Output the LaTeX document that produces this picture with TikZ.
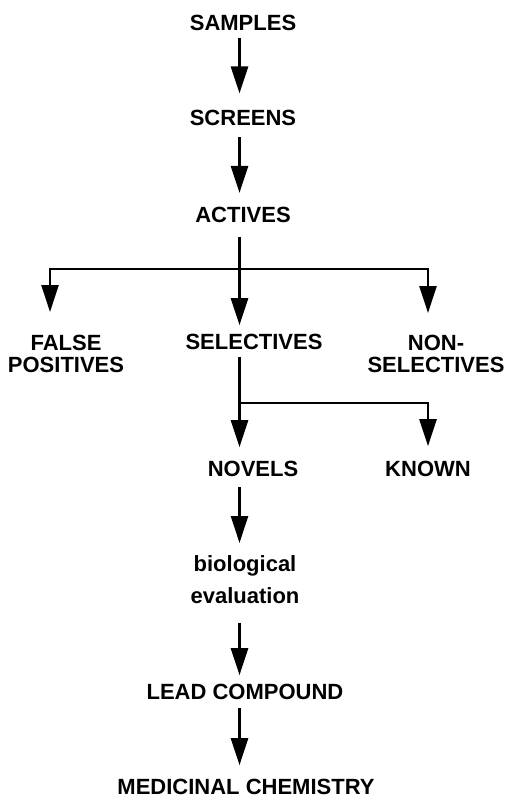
\documentclass[tikz,border=0pt]{standalone}
\usepackage{fontspec}
\setmainfont{Liberation Sans}
\usetikzlibrary{arrows.meta}
\begin{document}
\begin{tikzpicture}[x=1pt,y=-1pt,
  lbl/.style={inner sep=0pt,font=\fontsize{22}{22}\selectfont\bfseries,anchor=base},
  lbl2/.style={inner sep=0pt,font=\fontsize{22}{22}\selectfont\bfseries,anchor=north,align=center},
  conn/.style={line width=2.5pt,line join=miter},
  arr/.style={conn,-{Triangle[length=27pt,width=17pt]}}]
\useasboundingbox (0,0) rectangle (506,799);
\coordinate (sp) at (239.5,0);
\node[lbl] (samples) at (243,31) {SAMPLES};
\node[lbl] (screens) at (243,126) {SCREENS};
\node[lbl] (actives) at (243,223) {ACTIVES};
\node[lbl2] (false) at (66,334.6) {FALSE\\POSITIVES};
\node[lbl] (selectives) at (254,349) {SELECTIVES};
\node[lbl2] (nonsel) at (436,334.6) {NON-\\SELECTIVES};
\node[lbl] (novels) at (253,476) {NOVELS};
\node[lbl] (known) at (428,476) {KNOWN};
\node[lbl2,font=\fontsize{22}{32}\selectfont\bfseries] (bio) at (245,555) {biological\\evaluation};
\node[lbl] (lead) at (245,699) {LEAD COMPOUND};
\node[lbl] (med) at (246,794) {MEDICINAL CHEMISTRY};
\coordinate (j1) at (239.5,269);
\coordinate (xl) at (50,0);
\coordinate (xr) at (428,0);
\coordinate (j2) at (239.5,403);
\draw[arr] ([yshift=-7pt]samples.south -| sp) -- ([yshift=17pt]screens.north -| sp);
\draw[arr] ([yshift=-11pt]screens.south -| sp) -- ([yshift=14.5pt]actives.north -| sp);
\draw[conn] ([yshift=-14pt]actives.south -| sp) -- (j1);
\draw[arr] (j1) -| ([yshift=22.6pt]false.north -| xl);
\draw[arr] (j1) -| ([yshift=21.6pt]nonsel.north -| xr);
\draw[arr] (j1) -- ([yshift=8.25pt]selectives.north -| sp);
\draw[conn] ([yshift=-8pt]selectives.south -| sp) -- (j2);
\draw[arr] (j2) -- ([yshift=13.25pt]novels.north -| sp);
\draw[arr] (j2) -| ([yshift=14.25pt]known.north -| xr);
\draw[arr] ([yshift=-11pt]novels.south -| sp) -- ([yshift=12pt]bio.north -| sp);
\draw[arr] ([yshift=-19pt]bio.south -| sp) -- ([yshift=8.25pt]lead.north -| sp);
\draw[arr] ([yshift=-9pt]lead.south -| sp) -- ([yshift=13.25pt]med.north -| sp);
\end{tikzpicture}
\end{document}
